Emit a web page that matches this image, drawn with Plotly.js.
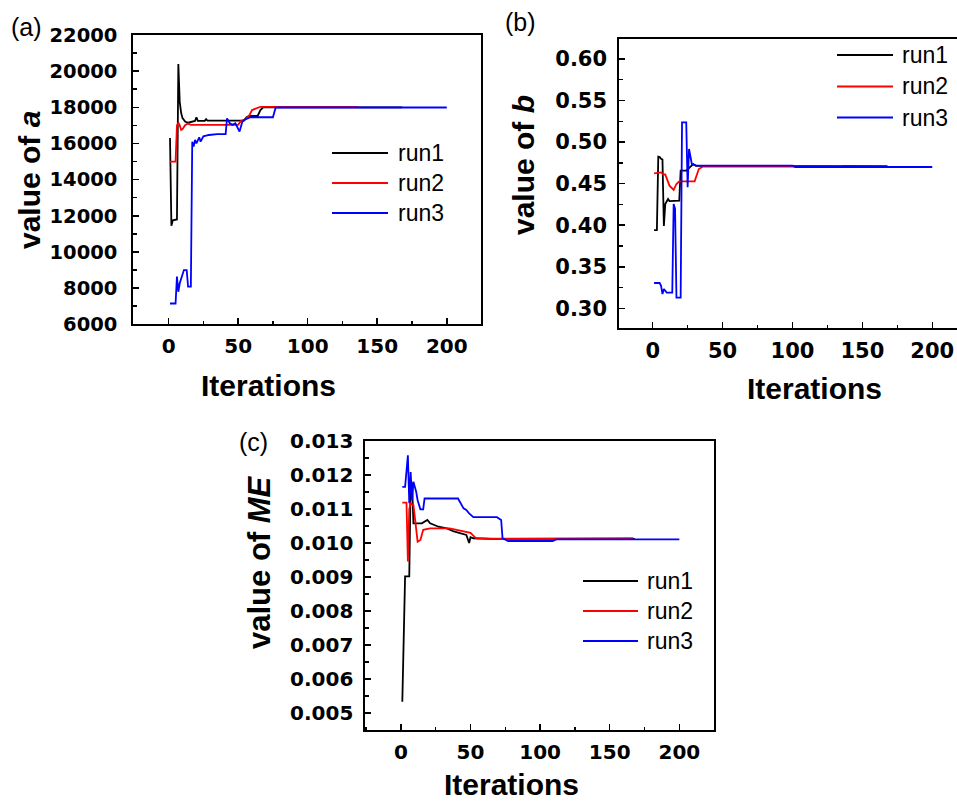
<!DOCTYPE html>
<html><head><meta charset="utf-8">
<script src="https://cdn.plot.ly/plotly-3.0.1.min.js"></script>
<style>body{margin:0;padding:0;background:#fff}#chart{width:957px;height:802px}</style>
</head><body><div id="chart"></div><script>
// ---------- data ----------
const seriesNames = ["run1", "run2", "run3"];
const seriesColors = ["#000000", "#ff0000", "#0000ff"];

// panel (a): value of a
const aIter1 = [1, 2, 3, 6, 7, 8, 9, 10, 12, 14, 19, 20, 21, 26, 27, 28, 54, 56, 58, 64, 66, 68, 168];
const aVal1  = [16300, 11450, 11750, 11800, 20400, 18300, 17700, 17400, 17200, 17150, 17250, 17450, 17250, 17250, 17350, 17260, 17260, 17450, 17520, 17520, 17850, 18000, 18000];
const aIter2 = [1, 5, 6, 7, 8, 9, 10, 12, 14, 16, 50, 52, 55, 58, 60, 63, 66, 136];
const aVal2  = [15000, 15000, 17000, 17150, 17000, 16750, 16800, 17020, 17100, 17030, 17030, 17250, 17330, 17550, 17850, 17950, 18030, 18030];
const aIter3 = [1, 5, 6, 7, 8, 10, 11, 13, 14, 16, 17, 18, 19, 20, 22, 23, 25, 29, 35, 41, 42, 44, 46, 48, 51, 53, 55, 59, 75, 77, 200];
const aVal3  = [7150, 7150, 8640, 7800, 8270, 8820, 9000, 9000, 8080, 8080, 16100, 15830, 16200, 16000, 16340, 16100, 16400, 16470, 16520, 16520, 17390, 17120, 17030, 17120, 16660, 17200, 17330, 17450, 17450, 17990, 17990];

// panel (b): value of b
const bIter1 = [1, 3, 4, 5, 6, 7, 8, 9, 11, 12, 19, 20, 24, 27, 29, 31, 168];
const bVal1  = [0.394, 0.394, 0.4825, 0.482, 0.480, 0.479, 0.399, 0.4255, 0.4315, 0.429, 0.4295, 0.4656, 0.4656, 0.470, 0.4736, 0.4714, 0.4712];
const bIter2 = [1, 5, 6, 8, 9, 12, 15, 17, 19, 30, 31, 33, 36, 136];
const bVal2  = [0.4624, 0.4636, 0.4636, 0.461, 0.461, 0.4476, 0.4424, 0.4496, 0.4528, 0.4528, 0.458, 0.4676, 0.4706, 0.4706];
const bIter3 = [1, 5, 6, 7, 8, 10, 14, 15, 16, 17, 20, 21, 22, 24, 25, 26, 28, 31, 100, 102, 200];
const bVal3  = [0.3305, 0.3305, 0.3272, 0.3172, 0.3232, 0.319, 0.319, 0.4255, 0.420, 0.313, 0.313, 0.5238, 0.5238, 0.5238, 0.4456, 0.4917, 0.4736, 0.4716, 0.4716, 0.4700, 0.4700];

// panel (c): value of ME
const cIter1 = [1, 3, 6, 7, 8, 9, 15, 19, 21, 27, 33, 38, 47, 49, 50, 52, 64, 168];
const cVal1  = [0.00533, 0.00902, 0.00902, 0.01185, 0.01175, 0.01058, 0.01058, 0.01068, 0.01058, 0.01048, 0.01043, 0.01034, 0.01024, 0.0100, 0.01017, 0.01014, 0.01012, 0.01012];
const cIter2 = [1, 4, 5, 6, 7, 9, 12, 14, 16, 21, 35, 40, 47, 50, 54, 66, 167];
const cVal2  = [0.01119, 0.01119, 0.00946, 0.0110, 0.01117, 0.01112, 0.01004, 0.01009, 0.01039, 0.01043, 0.01043, 0.01039, 0.01034, 0.0103, 0.01014, 0.01013, 0.01014];
const cIter3 = [1, 3, 5, 6, 7, 8, 9, 11, 12, 14, 16, 17, 41, 45, 47, 49, 52, 69, 72, 73, 77, 109, 112, 200];
const cVal3  = [0.01165, 0.01165, 0.01258, 0.01117, 0.01209, 0.01126, 0.0118, 0.0115, 0.01126, 0.01099, 0.01099, 0.01131, 0.01131, 0.01102, 0.01097, 0.01087, 0.01076, 0.01076, 0.01068, 0.01014, 0.01006, 0.01006, 0.01011, 0.01011];

const panelLetters = ["(a)", "(b)", "(c)"];
const yTitles = ["value of <i>a</i>", "value of <i>b</i>", "value of <i>ME</i>"];
const xTitle = "Iterations";

// ---------- layout helpers ----------
const W = 957, H = 802;
const fx = v => v / W, fy = v => 1 - v / H;
const TICKFONT = "DejaVu Sans, Liberation Sans, Arial, sans-serif";
const TEXTFONT = "Liberation Sans, Arial, Helvetica, sans-serif";

function xax(dom, rng, anchor, fs) {
  return {
    domain: dom, range: rng, anchor: anchor,
    showline: true, mirror: true, linecolor: "#000", linewidth: 1.7,
    ticks: "inside", ticklen: 6, tickwidth: 1.5, tickcolor: "#000",
    tick0: 0, dtick: 50, showgrid: false, zeroline: false,
    minor: {ticks: "inside", ticklen: 3.5, tickwidth: 1.5, tickcolor: "#000", dtick: 25, showgrid: false},
    tickfont: {family: TICKFONT, size: fs, color: "#000", weight: "bold"},
    ticklabelstandoff: 3, fixedrange: true
  };
}
function yax(dom, rng, anchor, dt, fmt, fs, mirror, standoff) {
  return {
    domain: dom, range: rng, anchor: anchor,
    showline: true, mirror: mirror, linecolor: "#000", linewidth: 1.7,
    ticks: "inside", ticklen: 6, tickwidth: 1.5, tickcolor: "#000",
    dtick: dt, tickformat: fmt, showgrid: false, zeroline: false,
    minor: {ticks: "inside", ticklen: 3.5, tickwidth: 1.5, tickcolor: "#000", dtick: dt / 2, showgrid: false},
    tickfont: {family: TICKFONT, size: fs, color: "#000", weight: "bold"},
    ticklabelstandoff: standoff, fixedrange: true
  };
}

const panels = [
  {xs: [aIter1, aIter2, aIter3], ys: [aVal1, aVal2, aVal3], xa: "x", ya: "y"},
  {xs: [bIter1, bIter2, bIter3], ys: [bVal1, bVal2, bVal3], xa: "x2", ya: "y2"},
  {xs: [cIter1, cIter2, cIter3], ys: [cVal1, cVal2, cVal3], xa: "x3", ya: "y3"}
];
const traces = [];
panels.forEach(p => {
  for (let i = 0; i < 3; i++) {
    traces.push({
      type: "scatter", mode: "lines", x: p.xs[i], y: p.ys[i],
      xaxis: p.xa, yaxis: p.ya, name: seriesNames[i], showlegend: false,
      line: {color: seriesColors[i], width: 1.8}, hoverinfo: "skip"
    });
  }
});

// custom legends (pixel positions of legend rows)
const legendBoxes = [
  {x0: 332, x1: 388, tx: 396, rows: [153, 183, 213]},
  {x0: 837, x1: 893, tx: 900, rows: [55, 86.5, 117.5]},
  {x0: 583, x1: 638, tx: 645, rows: [581, 611, 641]}
];
const shapes = [], annotations = [];
legendBoxes.forEach(lb => {
  lb.rows.forEach((ry, i) => {
    shapes.push({type: "line", xref: "paper", yref: "paper",
      x0: fx(lb.x0), x1: fx(lb.x1), y0: fy(ry), y1: fy(ry),
      line: {color: seriesColors[i], width: 2}});
    annotations.push({xref: "paper", yref: "paper", x: fx(lb.tx), y: fy(ry),
      xanchor: "left", yanchor: "middle", showarrow: false, text: seriesNames[i],
      font: {family: TEXTFONT, size: 23, color: "#000"}});
  });
});

// panel letters
[[26, 27], [520, 22], [254, 442]].forEach((p, i) => {
  annotations.push({xref: "paper", yref: "paper", x: fx(p[0]), y: fy(p[1]),
    xanchor: "center", yanchor: "middle", showarrow: false, text: panelLetters[i],
    font: {family: TEXTFONT, size: 25, color: "#000"}});
});
// y titles
[[29, 180, 30], [523, 165, 30], [259, 562, 31]].forEach((p, i) => {
  annotations.push({xref: "paper", yref: "paper", x: fx(p[0]), y: fy(p[1]),
    xanchor: "center", yanchor: "middle", showarrow: false, textangle: -90, text: yTitles[i],
    font: {family: TEXTFONT, size: p[2], color: "#000", weight: "bold"}});
});
// x titles
[[268, 385], [814, 388], [511, 784]].forEach(p => {
  annotations.push({xref: "paper", yref: "paper", x: fx(p[0]), y: fy(p[1]),
    xanchor: "center", yanchor: "middle", showarrow: false, text: xTitle,
    font: {family: TEXTFONT, size: 30, color: "#000", weight: "bold"}});
});

const layout = {
  width: W, height: H, margin: {l: 0, r: 0, t: 0, b: 0, pad: 0},
  paper_bgcolor: "#fff", plot_bgcolor: "#fff", showlegend: false,
  xaxis:  xax([fx(133), fx(481)], [-25.6, 224.6], "y", 20),
  yaxis:  yax([fy(324.3), fy(35)], [6000, 22000], "x", 2000, "d", 19.5, true, 10),
  xaxis2: xax([fx(619), 1], [-24.1, 217.7], "y2", 21),
  yaxis2: yax([fy(328.3), fy(39)], [0.276, 0.624], "x2", 0.05, ".2f", 21, false, 6),
  xaxis3: xax([fx(365), fx(714)], [-25.8, 224.9], "y3", 20),
  yaxis3: yax([fy(730), fy(440.7)], [0.0045, 0.01301], "x3", 0.001, ".3f", 20, true, 6),
  shapes: shapes, annotations: annotations
};
Plotly.newPlot("chart", traces, layout, {staticPlot: true, displayModeBar: false});
</script></body></html>
